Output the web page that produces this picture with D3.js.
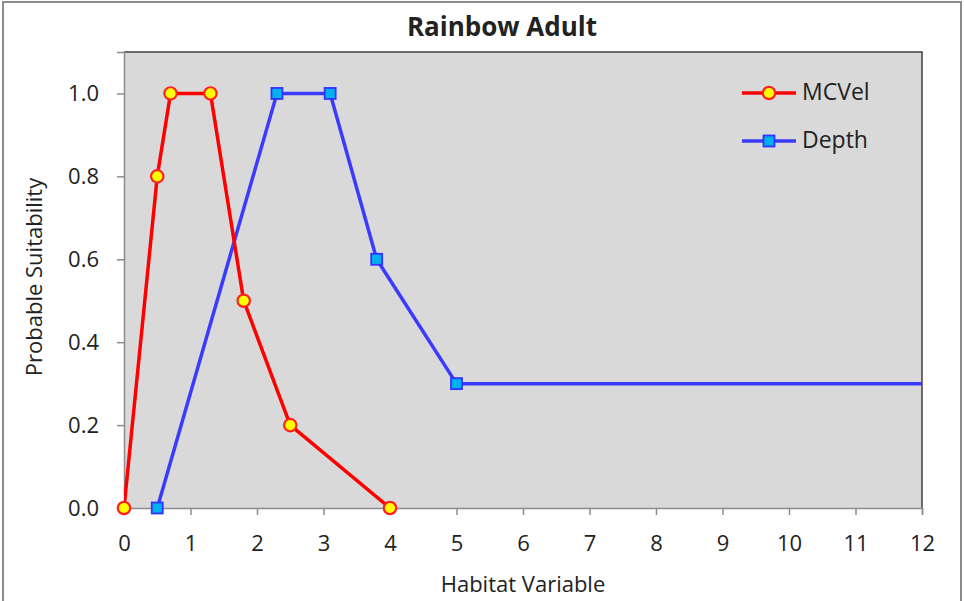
<!DOCTYPE html>
<html>
<head>
<meta charset="utf-8">
<script src="https://cdn.jsdelivr.net/npm/d3@7"></script>
<style>
  body { margin: 0; background: #fff; }
  text { font-family: "Open Sans", "Noto Sans", sans-serif; fill: #222; }
</style>
</head>
<body>
<svg id="chart" width="964" height="601"></svg>
<script>
/* series */
var mcvelX = [0, 0.5, 0.7, 1.3, 1.8, 2.5, 4];
var mcvelY = [0, 0.8, 1.0, 1.0, 0.5, 0.2, 0];
var depthX = [0.5, 2.3, 3.1, 3.8, 5, 20];
var depthY = [0, 1.0, 1.0, 0.6, 0.3, 0.3];
var xTicks = [0,1,2,3,4,5,6,7,8,9,10,11,12];
var yTicks = [0, 0.2, 0.4, 0.6, 0.8, 1.0];

var svg = d3.select("#chart");
var plotLeft = 124, plotRight = 922, plotTop = 52, plotBottom = 508;

// outer frame
svg.append("rect").attr("x", 3).attr("y", 2).attr("width", 958).attr("height", 610)
  .attr("fill", "#fff").attr("stroke", "#8c8c8c").attr("stroke-width", 2);

var x = d3.scaleLinear().domain([0, 12]).range([plotLeft, plotRight]);
var y = d3.scaleLinear().domain([0, 1.1]).range([plotBottom, plotTop]);

svg.append("defs").append("clipPath").attr("id", "plotclip")
  .append("rect").attr("x", plotLeft).attr("y", plotTop)
  .attr("width", plotRight - plotLeft).attr("height", plotBottom - plotTop);

svg.append("rect").attr("x", plotLeft).attr("y", plotTop)
  .attr("width", plotRight - plotLeft).attr("height", plotBottom - plotTop)
  .attr("fill", "#d9d9d9");
// dark top/right edges of the plot area
svg.append("path").attr("d", "M" + plotLeft + "," + plotTop + "H" + plotRight + "V" + plotBottom)
  .attr("fill", "none").attr("stroke", "#404040").attr("stroke-width", 1.5);

var xAxis = svg.append("g").attr("transform", "translate(0," + plotBottom + ")")
  .call(d3.axisBottom(x).tickValues(xTicks).tickSize(7).tickPadding(20).tickFormat(d3.format("d")));
var yAxis = svg.append("g").attr("transform", "translate(" + plotLeft + ",0)")
  .call(d3.axisLeft(y).tickValues(yTicks).tickSize(7).tickPadding(18).tickFormat(d3.format(".1f")));
[xAxis, yAxis].forEach(function(a){
  a.select(".domain").attr("stroke", "#8c8c8c").attr("stroke-width", 1.5);
  a.selectAll(".tick line").attr("stroke", "#8c8c8c").attr("stroke-width", 1.5);
  a.selectAll(".tick text").style("font-size", "22px").attr("fill", "#222");
});

var line = d3.line().x(function(d){ return x(d[0]); }).y(function(d){ return y(d[1]); });
var mcvel = mcvelX.map(function(v, i){ return [v, mcvelY[i]]; });
var depth = depthX.map(function(v, i){ return [v, depthY[i]]; });

var plot = svg.append("g").attr("clip-path", "url(#plotclip)");
plot.append("path").datum(depth).attr("d", line)
  .attr("fill", "none").attr("stroke", "#3b3bff").attr("stroke-width", 3.5).attr("stroke-linejoin", "round");
plot.append("path").datum(mcvel).attr("d", line)
  .attr("fill", "none").attr("stroke", "#ff0000").attr("stroke-width", 3.5).attr("stroke-linejoin", "round");

// markers are drawn on top, unclipped like the original
svg.append("g").selectAll("rect").data(depth.filter(function(d){ return d[0] <= 12; }))
  .enter().append("rect")
  .attr("x", function(d){ return x(d[0]) - 5.5; }).attr("y", function(d){ return y(d[1]) - 5.5; })
  .attr("width", 11).attr("height", 11)
  .attr("fill", "#00b0f0").attr("stroke", "#3333ff").attr("stroke-width", 1.8);
svg.append("g").selectAll("circle").data(mcvel).enter().append("circle")
  .attr("cx", function(d){ return x(d[0]); }).attr("cy", function(d){ return y(d[1]); })
  .attr("r", 6.2).attr("fill", "#ffff00").attr("stroke", "#ff2020").attr("stroke-width", 2.2);

// legend
var legend = svg.append("g");
legend.append("line").attr("x1", 742).attr("x2", 796).attr("y1", 93).attr("y2", 93)
  .attr("stroke", "#ff0000").attr("stroke-width", 3.5);
legend.append("circle").attr("cx", 769).attr("cy", 93).attr("r", 6.2)
  .attr("fill", "#ffff00").attr("stroke", "#ff2020").attr("stroke-width", 2.2);
legend.append("text").attr("x", 802).attr("y", 100).style("font-size", "23px").text("MCVel");
legend.append("line").attr("x1", 742).attr("x2", 796).attr("y1", 141).attr("y2", 141)
  .attr("stroke", "#3b3bff").attr("stroke-width", 3.5);
legend.append("rect").attr("x", 763.5).attr("y", 135.5).attr("width", 11).attr("height", 11)
  .attr("fill", "#00b0f0").attr("stroke", "#3333ff").attr("stroke-width", 1.8);
legend.append("text").attr("x", 802).attr("y", 148).style("font-size", "23px").text("Depth");

// titles
svg.append("text").attr("x", 502).attr("y", 36).attr("text-anchor", "middle")
  .style("font-size", "26px").style("font-weight", "bold").text("Rainbow Adult");
svg.append("text").attr("x", 523).attr("y", 592).attr("text-anchor", "middle")
  .style("font-size", "22px").text("Habitat Variable");
svg.append("text").attr("transform", "translate(42,277) rotate(-90)").attr("text-anchor", "middle")
  .style("font-size", "22px").text("Probable Suitability");
</script>
</body>
</html>
